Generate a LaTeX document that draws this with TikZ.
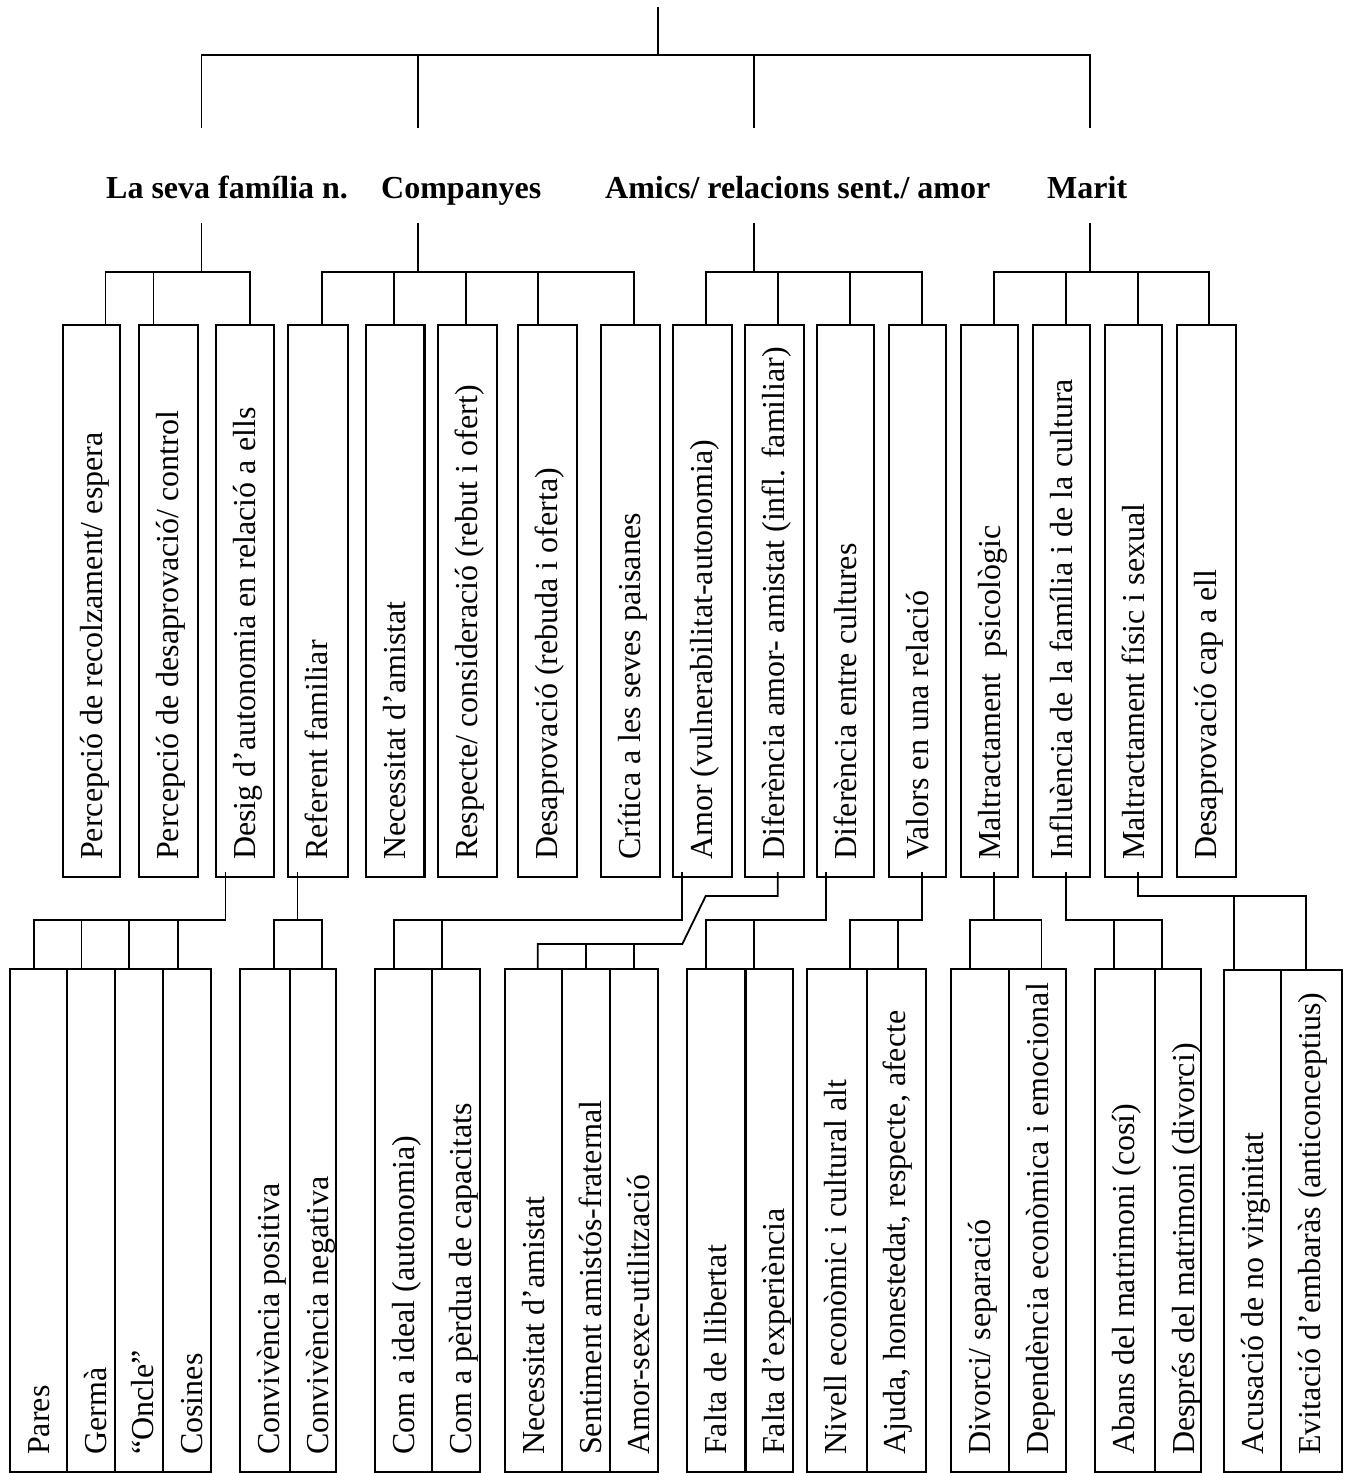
\documentclass[tikz,border=0pt]{standalone}
\usepackage{fontspec}
\setmainfont{Liberation Serif}
\usetikzlibrary{calc}
\tikzset{
 cellbox/.style={draw, line width=2.1pt, inner sep=0pt, outer sep=0pt, anchor=north west},
 celltext/.style={rotate=90, anchor=base west, inner sep=0pt, font=\fontsize{32}{38}\selectfont},
 conn/.style={line width=1.8pt},
 titletext/.style={anchor=base west, inner sep=0pt, font=\fontsize{32}{38}\selectfont\bfseries},
}
\newcommand{\mkcell}[6]{%
 \node[cellbox, minimum width={(#4)-(#2)}, minimum height={(#5)-(#3)}] (#1) at (#2,#3) {};
 \node[celltext] (#1t) at ($(#1.south west)+(39,-17)$) {#6};
}
\begin{document}
\begin{tikzpicture}[x=1pt,y=-1pt]
\useasboundingbox (0,0) rectangle (1349,1473);
% titles
\node[titletext] (tfam) at (106,198) {La seva família n.};
\node[titletext] (tcomp) at (381,198) {Companyes};
\node[titletext] (tamics) at (605,198) {Amics/ relacions sent./ amor};
\node[titletext] (tmarit) at (1047,198) {Marit};
% middle boxes
\mkcell{m1}{63}{325}{120}{877}{Percepció de recolzament/ espera}
\mkcell{m2}{139}{325}{198}{877}{Percepció de desaprovació/ control}
\mkcell{m3}{216}{325}{274}{877}{Desig d’autonomia en relació a ells}
\mkcell{m4}{288}{325}{348}{877}{Referent familiar}
\mkcell{m5}{366}{325}{424.5}{877}{Necessitat d’amistat}
\mkcell{m6}{438}{325}{497}{877}{Respecte/ consideració (rebut i ofert)}
\mkcell{m7}{518}{325}{577}{877}{Desaprovació (rebuda i oferta)}
\mkcell{m8}{601}{325}{660}{877}{Crítica a les seves paisanes}
\mkcell{m9}{673}{325}{732}{877}{Amor (vulnerabilitat-autonomia)}
\mkcell{m10}{745}{325}{804}{877}{Diferència amor- amistat (infl. familiar)}
\mkcell{m11}{817}{325}{874}{877}{Diferència entre cultures}
\mkcell{m12}{889}{325}{946}{877}{Valors en una relació}
\mkcell{m13}{961}{325}{1018}{877}{Maltractament\ \ psicològic}
\mkcell{m14}{1033}{325}{1090}{877}{Influència de la família i de la cultura}
\mkcell{m15}{1105}{325}{1162}{877}{Maltractament físic i sexual}
\mkcell{m16}{1177}{325}{1236}{877}{Desaprovació cap a ell}
% bottom boxes
\mkcell{b1}{10}{969}{67.2}{1472}{Pares}
\mkcell{b2}{67.2}{969}{114.9}{1472}{Germà}
\mkcell{b3}{114.9}{969}{163}{1472}{“Oncle”}
\mkcell{b4}{163}{969}{211.2}{1472}{Cosines}
\mkcell{b5}{240}{969}{289.7}{1472}{Convivència positiva}
\mkcell{b6}{289.7}{969}{335.6}{1472}{Convivència negativa}
\mkcell{b7}{375}{969}{432.4}{1472}{Com a ideal (autonomia)}
\mkcell{b8}{432.4}{969}{480}{1472}{Com a pèrdua de capacitats}
\mkcell{b9}{505.2}{969}{562}{1472}{Necessitat d’amistat}
\mkcell{b10}{562}{969}{610.2}{1472}{Sentiment amistós-fraternal}
\mkcell{b11}{610.2}{969}{658}{1472}{Amor-sexe-utilització}
\mkcell{b12}{687}{969}{745.5}{1472}{Falta de llibertat}
\mkcell{b13}{745.5}{969}{793}{1472}{Falta d’experiència}
\mkcell{b14}{807}{969}{866.7}{1472}{Nivell econòmic i cultural alt}
\mkcell{b15}{866.7}{969}{926}{1472}{Ajuda, honestedat, respecte, afecte}
\mkcell{b16}{951.3}{969}{1009}{1472}{Divorci/ separació}
\mkcell{b17}{1009}{969}{1066}{1472}{Dependència econòmica i emocional}
\mkcell{b18}{1095}{969}{1155.4}{1472}{Abans del matrimoni (cosí)}
\mkcell{b19}{1155.4}{969}{1201}{1472}{Després del matrimoni (divorci)}
\mkcell{b20}{1224}{970}{1281.4}{1472}{Acusació de no virginitat}
\mkcell{b21}{1281.4}{970}{1342}{1472}{Evitació d’embaràs (anticonceptius)}
% top connectors
\coordinate (root) at (658,7);
\coordinate (hub) at (658,55);
\draw[conn] (root) -- (hub);
\draw[conn] (201.5,128) -- (201.5,55) -- (1090,55) -- (1090,128);
\draw[conn] (418,55) -- (418,128);
\draw[conn] (754,55) -- (754,128);
% level 2
\draw[conn] (201.5,223) -- (201.5,272);
\draw[conn] (105.4,0 |- m1.north) -- (105.4,272) -- (249.8,272) -- (249.8,0 |- m3.north);
\draw[conn] (153.5,272) -- (153.5,0 |- m2.north);
\draw[conn] (418,223) -- (418,272);
\draw[conn] (321.8,0 |- m4.north) -- (321.8,272) -- (633.6,272) -- (633.6,0 |- m8.north);
\draw[conn] (393.8,272) -- (393.8,0 |- m5.north);
\draw[conn] (465.8,272) -- (465.8,0 |- m6.north);
\draw[conn] (537.7,272) -- (537.7,0 |- m7.north);
\draw[conn] (754,223) -- (754,272);
\draw[conn] (705.7,0 |- m9.north) -- (705.7,272) -- (921.9,272) -- (921.9,0 |- m12.north);
\draw[conn] (777.7,272) -- (777.7,0 |- m10.north);
\draw[conn] (849.8,272) -- (849.8,0 |- m11.north);
\draw[conn] (1090,223) -- (1090,272);
\draw[conn] (993.9,0 |- m13.north) -- (993.9,272) -- (1209,272) -- (1209,0 |- m16.north);
\draw[conn] (1066,272) -- (1066,0 |- m14.north);
\draw[conn] (1138,272) -- (1138,0 |- m15.north);
% level 3
\draw[conn] (225.5,872) -- (225.5,920) -- (33.8,920) -- (33.8,0 |- b1.north);
\draw[conn] (81.5,920) -- (81.5,0 |- b2.north);
\draw[conn] (129.2,920) -- (129.2,0 |- b3.north);
\draw[conn] (177.8,920) -- (177.8,0 |- b4.north);
\draw[conn] (297.5,872) -- (297.5,920);
\draw[conn] (273.6,0 |- b5.north) -- (273.6,920) -- (321.8,920) -- (321.8,0 |- b6.north);
\draw[conn] (682.3,872) -- (682.3,920) -- (393.8,920) -- (393.8,0 |- b7.north);
\draw[conn] (441.8,920) -- (441.8,0 |- b8.north);
\draw[conn] (777.7,872) -- (777.7,896) -- (705.7,896) -- (682.3,944) -- (537.7,944) -- (537.7,0 |- b9.north);
\draw[conn] (585.9,944) -- (585.9,0 |- b10.north);
\draw[conn] (633.8,944) -- (633.8,0 |- b11.north);
\draw[conn] (826,872) -- (826,920) -- (705.7,920) -- (705.7,0 |- b12.north);
\draw[conn] (754,920) -- (754,0 |- b13.north);
\draw[conn] (921.9,872) -- (921.9,920) -- (849.8,920) -- (849.8,0 |- b14.north);
\draw[conn] (897.7,920) -- (897.7,0 |- b15.north);
\draw[conn] (993.9,872) -- (993.9,920);
\draw[conn] (970.2,0 |- b16.north) -- (970.2,920) -- (1041.5,920) -- (1041.5,0 |- b17.north);
\draw[conn] (1066,872) -- (1066,920) -- (1161.7,920) -- (1161.7,0 |- b19.north);
\draw[conn] (1113.9,920) -- (1113.9,0 |- b18.north);
\draw[conn] (1137.8,872) -- (1137.8,896) -- (1305.7,896) -- (1305.7,0 |- b21.north);
\draw[conn] (1234,896) -- (1234,0 |- b20.north);
\end{tikzpicture}
\end{document}
